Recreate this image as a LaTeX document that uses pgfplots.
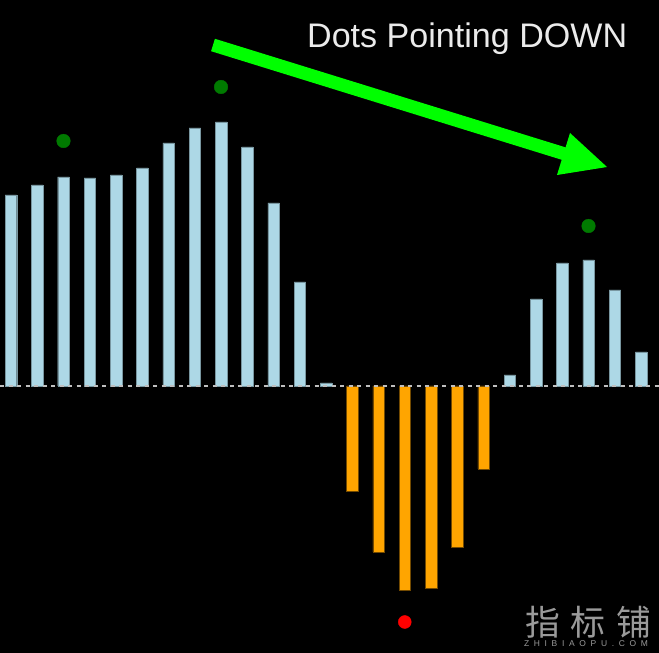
\documentclass[border=0pt]{standalone}
\usepackage{pgfplots}
\pgfplotsset{compat=1.18}
\usepackage{fontspec}
\setmainfont{Liberation Sans}
\newfontfamily\cjk{Noto Sans CJK SC}
\definecolor{barblue}{HTML}{ADD8E6}
\definecolor{barorange}{HTML}{FFA500}
\definecolor{dotgreen}{HTML}{007A00}
\definecolor{arrowgreen}{HTML}{00FF00}
\definecolor{wmgray}{HTML}{9A9A9A}
\begin{document}
\begin{tikzpicture}[x=1bp,y=1bp]
\useasboundingbox (0,0) rectangle (659,653);
\fill[black] (-3,-3) rectangle (662,656);
\begin{axis}[
    at={(0,0)}, anchor=south west,
    scale only axis, width=659bp, height=653bp,
    xmin=0.581, xmax=25.686, ymin=-267, ymax=386,
    axis lines=none, clip=false,
]
% positive bars
\addplot[ybar, bar width=11.5bp, bar shift=0pt, fill=barblue, draw=barblue!70!black, line width=0.4bp]
coordinates {(1,191) (2,201) (3,209) (4,208) (5,211) (6,218) (7,243) (8,258) (9,264)
 (10,239) (11,183) (12,104) (13,3) (20,11) (21,87) (22,123) (23,126) (24,96) (25,34)};
% negative bars
\addplot[ybar, bar width=11.5bp, bar shift=0pt, fill=barorange, draw=barorange!45!black, line width=0.4bp]
coordinates {(14,-105) (15,-166) (16,-204) (17,-202) (18,-161) (19,-83)};
% zero line
\addplot[draw=white!75!black, line width=1.2bp, dash pattern=on 4bp off 4.5bp] coordinates {(0.581,0) (25.686,0)};
% dots
\addplot[only marks, mark=*, mark size=6.8bp, color=dotgreen] coordinates {(3,245) (9,299) (23,160)};
\addplot[only marks, mark=*, mark size=6.5bp, color=red] coordinates {(16,-236)};
\end{axis}
% arrow
\draw[arrowgreen, line width=13bp] (213,608) -- (565,499);
\fill[arrowgreen] (570,520) -- (607,486) -- (557,478) -- cycle;
\node[anchor=base west, inner sep=0pt, text=white!92!black, font=\fontsize{34.2}{34}\selectfont] at (307,605) {Dots Pointing DOWN};
% watermark
\node[text=wmgray, font=\cjk\fontsize{35}{35}\selectfont, inner sep=0pt] at (543,31) {指};
\node[text=wmgray, font=\cjk\fontsize{35}{35}\selectfont, inner sep=0pt] at (588,31) {标};
\node[text=wmgray, font=\cjk\fontsize{35}{35}\selectfont, inner sep=0pt] at (634,31) {铺};
\node[text=wmgray, font=\fontsize{8.5}{8.5}\selectfont, inner sep=0pt, anchor=base] at (586,6)
 {\makebox[124bp][s]{Z\hfill H\hfill I\hfill B\hfill I\hfill A\hfill O\hfill P\hfill U\hfill .\hfill C\hfill O\hfill M}};
\end{tikzpicture}
\end{document}
